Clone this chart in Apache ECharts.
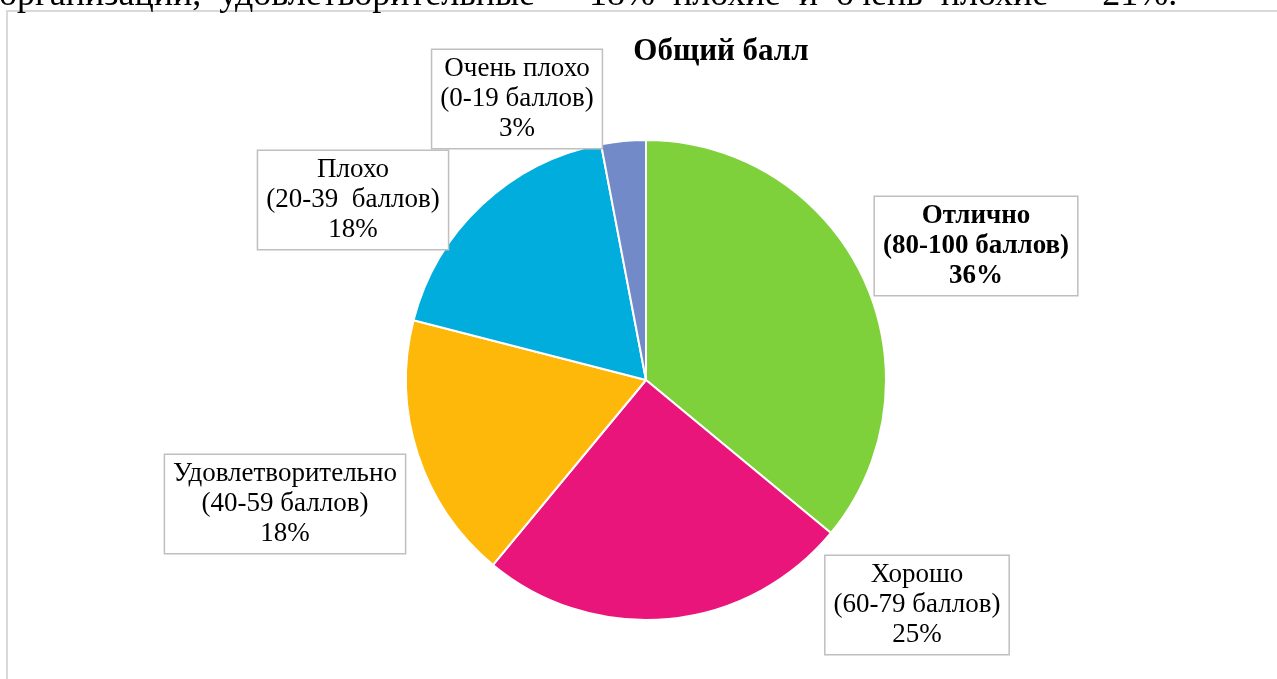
<!DOCTYPE html>
<html>
<head>
<meta charset="utf-8">
<script src="https://cdn.jsdelivr.net/npm/echarts@6/dist/echarts.min.js"></script>
<style>
html,body{margin:0;padding:0;background:#fff;}
#chart{width:1277px;height:679px;}
</style>
</head>
<body>
<div id="chart"></div>
<script>
const categories = ['Отлично', 'Хорошо', 'Удовлетворительно', 'Плохо', 'Очень плохо'];
const ranges = ['(80-100 баллов)', '(60-79 баллов)', '(40-59 баллов)', '(20-39  баллов)', '(0-19 баллов)'];
const values = [36, 25, 18, 18, 3];
const colors = ['#7FD13B', '#EA157A', '#FEB80A', '#00ADDC', '#738AC8'];
const titleText = 'Общий балл';
const topText = 'организации,  удовлетворительные  –  18%  плохие  и  очень  плохие  –  21%.';

// label box centres (layout only)
const labelPos = [[976, 246], [917, 605], [285, 504], [353, 200], [517, 99]];

const chart = echarts.init(document.getElementById('chart'), null, {renderer: 'canvas'});
const font = '"Liberation Serif", "Times New Roman", serif';

chart.setOption({
  animation: false,
  backgroundColor: '#fff',
  title: {
    text: titleText,
    left: 716, top: 31, textAlign: 'center',
    textStyle: {fontFamily: font, fontSize: 31, fontWeight: 'bold', color: '#000'}
  },
  graphic: [
    {type: 'rect', shape: {x: 7, y: 11, width: 1290, height: 700},
     style: {fill: 'none', stroke: '#d9d9d9', lineWidth: 2}, z: 1},
    {type: 'text', left: -1, top: -22,
     style: {text: topText, font: '36px "Liberation Serif", serif', fill: '#000'}, z: 2}
  ],
  series: [{
    type: 'pie',
    center: [646, 380],
    radius: 240,
    startAngle: 90,
    clockwise: true,
    data: categories.map((c, i) => ({
      name: c, value: values[i],
      itemStyle: {color: colors[i]},
      label: i === 0 ? {fontWeight: 'bold'} : {}
    })),
    itemStyle: {borderColor: '#fff', borderWidth: 2},
    label: {
      show: true,
      formatter: p => p.name + '\n' + ranges[p.dataIndex] + '\n' + Math.round(p.percent) + '%',
      fontFamily: font,
      fontSize: 27,
      lineHeight: 30,
      color: '#000',
      align: 'center',
      backgroundColor: '#fff',
      borderColor: '#bfbfbf',
      borderWidth: 1.5,
      padding: [4, 8]
    },
    labelLine: {show: false},
    labelLayout: p => ({
      x: labelPos[p.dataIndex][0],
      y: labelPos[p.dataIndex][1],
      align: 'center',
      verticalAlign: 'middle'
    }),
    emphasis: {disabled: true}
  }]
});
</script>
</body>
</html>
